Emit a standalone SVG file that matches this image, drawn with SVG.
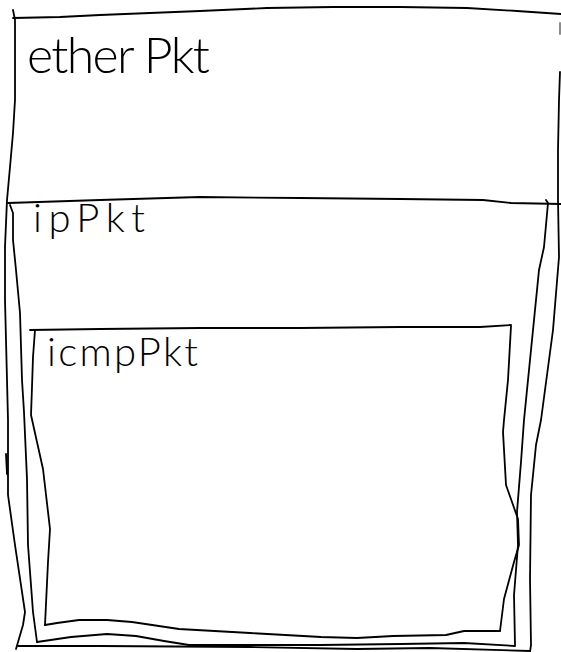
<svg xmlns="http://www.w3.org/2000/svg" width="561" height="652" viewBox="0 0 561 652">
<style>
.ln{fill:none;stroke:#000;stroke-width:1.8;stroke-linecap:round;stroke-linejoin:round}
.lb{font-family:Lato,"Liberation Sans",sans-serif;font-weight:300;fill:#000}
</style>
<rect width="561" height="652" fill="#fff"/>
<g id="etherPkt">
<path class="ln" d="M13,10 L15,20 L15,100 L13,133 L10,167 L7,200 L5,247 L5,300 L7,380 L8,420 L8,452 L8,495 L15,545 L25,612 L23,625 L16,649"/>
<path class="ln" d="M6,454 L7,474"/>
<path class="ln" d="M13,18 L60,17 L100,15 L200,11 L267,8 L333,7 L400,7 L467,8 L517,11 L561,14"/>
<path class="ln" d="M560,23 L560,34" stroke-opacity="0.5"/>
<path class="ln" d="M560,72 L559,100 L558,150 L558,200 L559,257 L553,330 L541,420 L536,445 L531,495 L530,579 L531,645 L530,652"/>
<path class="ln" d="M18,646 L100,646 L250,647 L357,649 L430,648 L530,651"/>
<text class="lb" x="27" y="73" font-size="50" textLength="183" lengthAdjust="spacing">ether Pkt</text>
</g>
<g id="ipPkt">
<path class="ln" d="M8,203 L100,200 L200,197 L300,198 L400,199 L483,200 L511,203 L561,204"/>
<path class="ln" d="M10,205 L13,213 L13,240 L16,270 L20,313 L22,380 L24,412 L27,479 L28,545 L33,612 L37,642"/>
<path class="ln" d="M546,200 L548,203 L544,247 L539,270 L533,330 L524,420 L521,462 L517,512 L518,545 L514,595 L515,645"/>
<path class="ln" d="M37,642 L71,637 L107,634 L136,636 L164,641 L189,645 L250,645 L320,645 L400,644 L464,643 L515,646"/>
<text class="lb" x="33" y="232" font-size="40" textLength="112" lengthAdjust="spacing">ipPkt</text>
</g>
<g id="icmpPkt">
<path class="ln" d="M30,330 L100,329 L200,328 L300,328 L400,327 L480,327 L511,325"/>
<path class="ln" d="M35,330 L33,357 L32,387 L31,415 L43,469 L50,529 L48,562 L45,625"/>
<path class="ln" d="M511,326 L508,380 L504,420 L503,432 L506,485 L518,519 L519,545 L514,562 L504,599 L500,631"/>
<path class="ln" d="M45,625 L57,623 L79,620 L107,620 L132,622 L179,629 L250,633 L321,637 L357,638 L393,636 L446,635 L464,631 L500,631"/>
<text class="lb" x="47" y="366" font-size="40" textLength="151" lengthAdjust="spacing">icmpPkt</text>
</g>
<g id="connectors"/>
</svg>
